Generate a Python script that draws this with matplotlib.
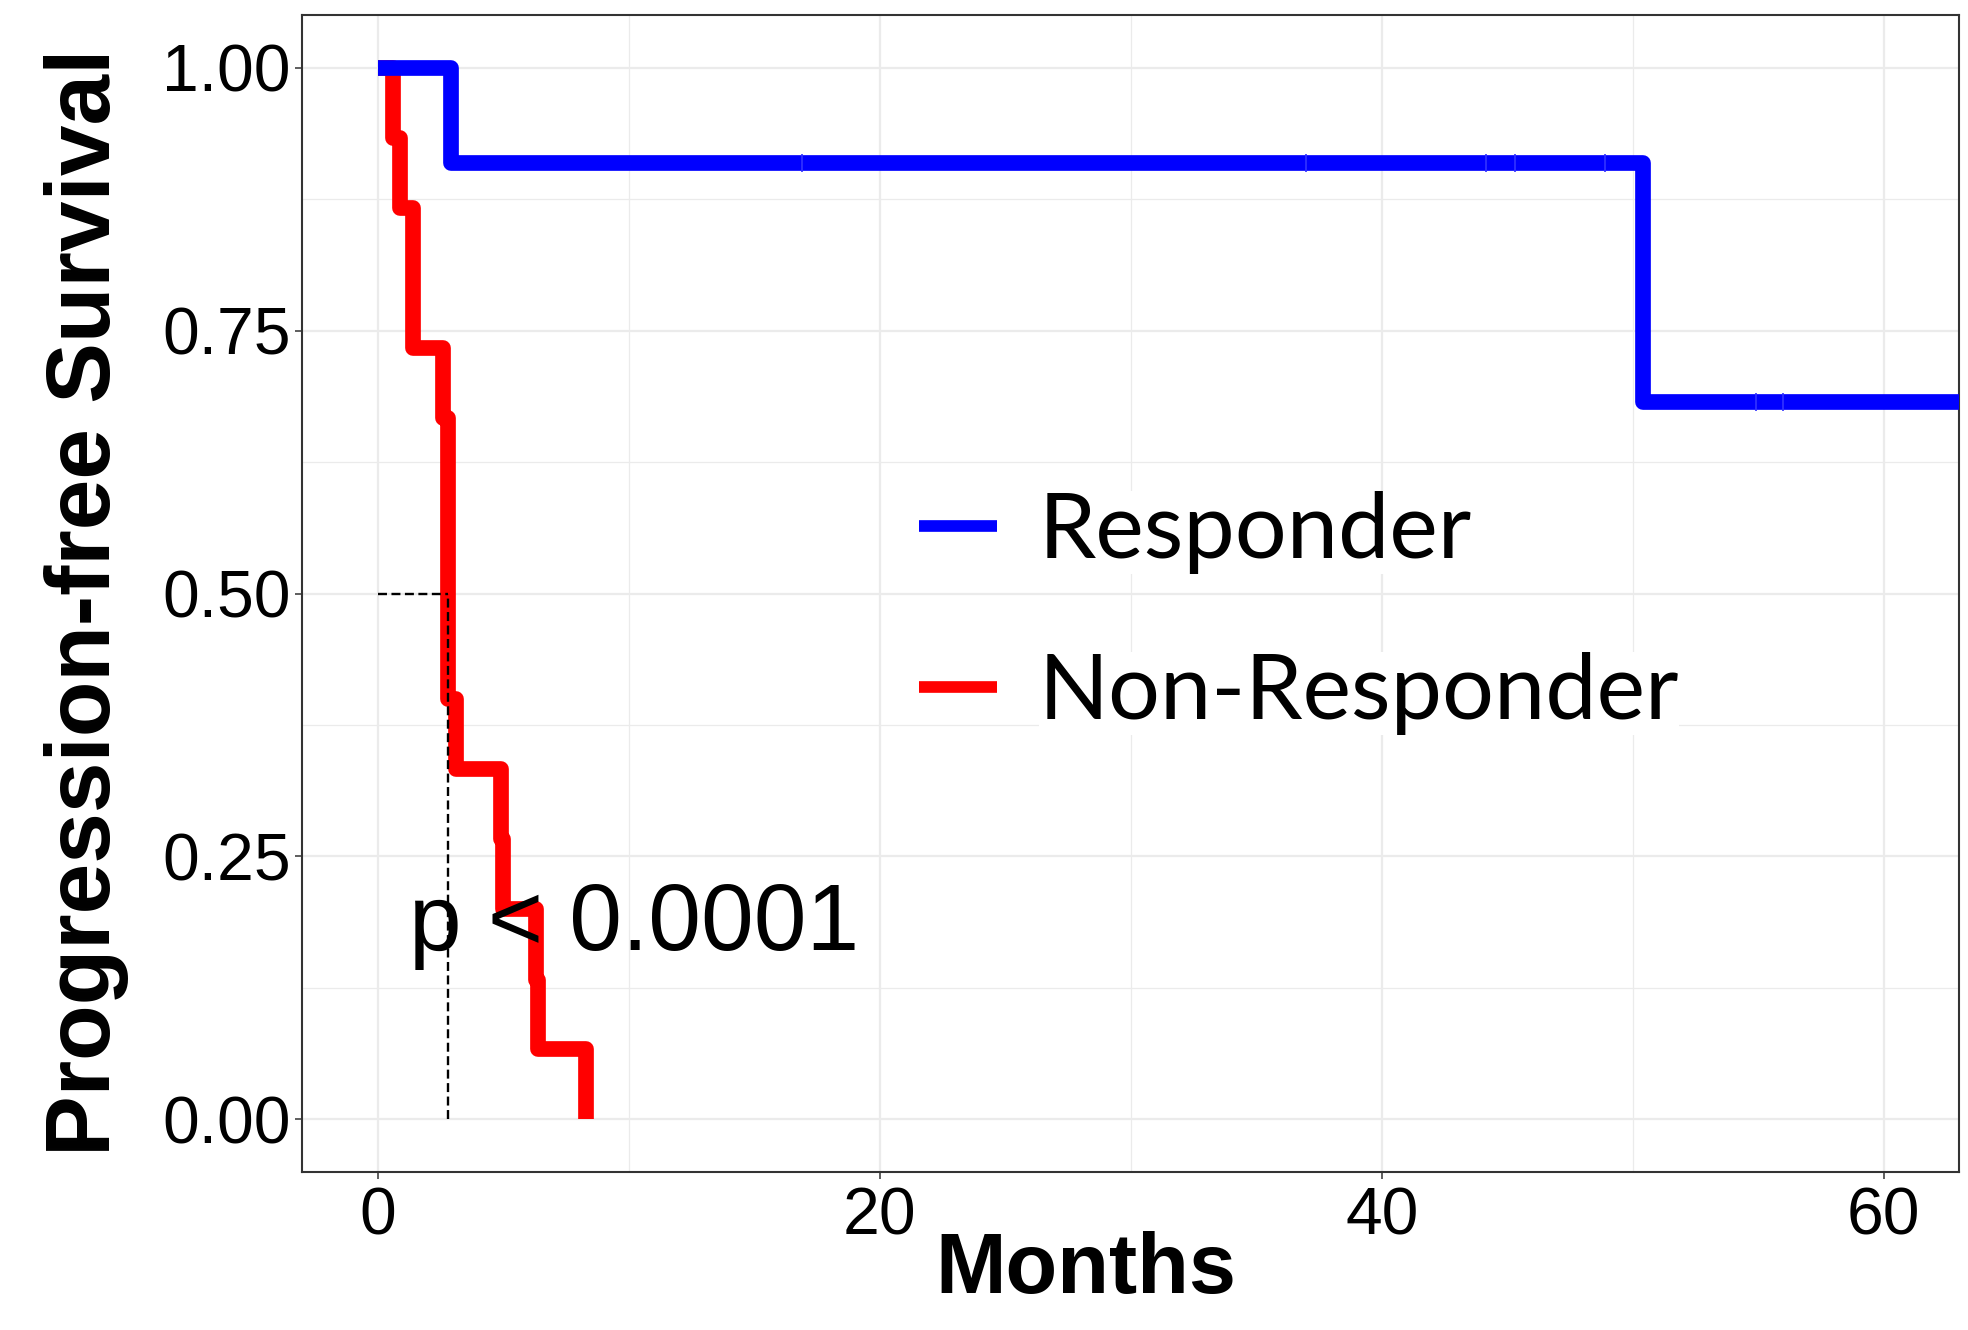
import matplotlib
matplotlib.use("Agg")
import matplotlib.pyplot as plt
import numpy as np
from matplotlib import font_manager

# Kaplan-Meier steps (months, survival)
times_resp = [0, 2.9, 50.4, 63.5]
surv_resp = [1.0, 0.909, 0.682, 0.682]
censor_resp = [16.9, 37.0, 44.15, 45.3, 48.9, 54.9, 56.0]

times_nonresp = [0, 0.6, 0.9, 1.4, 2.6, 2.8, 3.1, 4.9, 5.0, 6.3, 6.4, 8.3]
surv_nonresp = [1.0, 0.933, 0.867, 0.733, 0.667, 0.4, 0.333, 0.267, 0.2, 0.133, 0.067, 0.0]

median_nonresp = 2.8
groups = ["Responder", "Non-Responder"]
pval_text = "p < 0.0001"

x_ticks = [0, 20, 40, 60]
y_ticks = [0.0, 0.25, 0.5, 0.75, 1.0]
y_ticklabels = ["0.00", "0.25", "0.50", "0.75", "1.00"]

# fonts
names = {f.name for f in font_manager.fontManager.ttflist}
if "Liberation Sans Narrow" in names:
    narrow = "Liberation Sans Narrow"
    tick_size, p_size = 52, 78
else:
    narrow = "Liberation Sans"
    tick_size, p_size = 47.5, 68
legend_font = "Lato" if "Lato" in names else "Open Sans"
plt.rcParams["font.family"] = "Liberation Sans"

fig = plt.figure(figsize=(19.68, 13.30), dpi=100)
ax = fig.add_axes([0.1537, 0.1188, 0.8417, 0.8699])

# curves
ax.step(times_nonresp, surv_nonresp, where="post", color="#FF0000", lw=11.3,
        solid_joinstyle="round", solid_capstyle="butt", zorder=3, label=groups[1])
ax.step(times_resp, surv_resp, where="post", color="#0000FF", lw=11.3,
        solid_joinstyle="round", solid_capstyle="butt", zorder=4, label=groups[0])

# censor marks
idx = np.searchsorted(times_resp, censor_resp, side="right") - 1
cens_y = np.array(surv_resp)[idx]
ax.plot(censor_resp, cens_y, ls="none", marker="|", ms=12.5, mew=1.2,
        color="#3333FF", zorder=5)

# median line
ax.plot([0, median_nonresp], [0.5, 0.5], color="black", lw=1.7, ls=(0, (3.8, 1.9)), zorder=6)
ax.plot([median_nonresp, median_nonresp], [0, 0.5], color="black", lw=1.7,
        ls=(0, (3.8, 1.9)), zorder=6)

ax.text(1.25, 0.161, pval_text, ha="left", va="baseline", family=narrow,
        size=p_size, zorder=7)

ax.set_xlim(-3, 63)
ax.set_ylim(-0.05, 1.05)
ax.set_xticks(x_ticks)
ax.set_xticks([10, 30, 50], minor=True)
ax.set_yticks(y_ticks)
ax.set_yticklabels(y_ticklabels)
ax.set_yticks([0.125, 0.375, 0.625, 0.875], minor=True)
ax.grid(which="major", color="#EBEBEB", lw=1.6)
ax.grid(which="minor", color="#EBEBEB", lw=0.9)
ax.set_axisbelow(True)
ax.tick_params(which="minor", length=0)
ax.tick_params(which="major", length=4.8, width=1.1, color="#333333", labelsize=tick_size)
ax.tick_params(axis="y", pad=3.5)
ax.tick_params(axis="x", pad=6.0)
for lab in ax.get_xticklabels() + ax.get_yticklabels():
    lab.set_family(narrow)
for sp in ax.spines.values():
    sp.set_color("#333333")
    sp.set_linewidth(1.5)

ax.set_ylabel("Progression-free Survival", family="Liberation Sans", weight="bold", size=65.5)
ax.yaxis.label.set_va("baseline")
ax.yaxis.set_label_coords(-0.1162, 0.4927)
ax.set_xlabel("Months", family="Liberation Sans", weight="bold", size=61)
ax.xaxis.label.set_va("baseline")
ax.xaxis.set_label_coords(0.473, -0.1046)

handles, labels = ax.get_legend_handles_labels()
order = [labels.index(g) for g in groups]
leg = ax.legend([handles[i] for i in order], [labels[i] for i in order],
                loc="center left", bbox_to_anchor=(0.372, 0.483), frameon=False,
                prop={"family": legend_font, "size": 66}, handlelength=0.85,
                handletextpad=0.46, labelspacing=0.85, borderpad=0, borderaxespad=0)
for h in leg.get_lines():
    h.set_linewidth(8.4)
    h.set_solid_capstyle("butt")
for t in leg.get_texts():
    t.set_bbox(dict(facecolor="white", edgecolor="none", pad=0))

fig.savefig("out.png", dpi=100)
